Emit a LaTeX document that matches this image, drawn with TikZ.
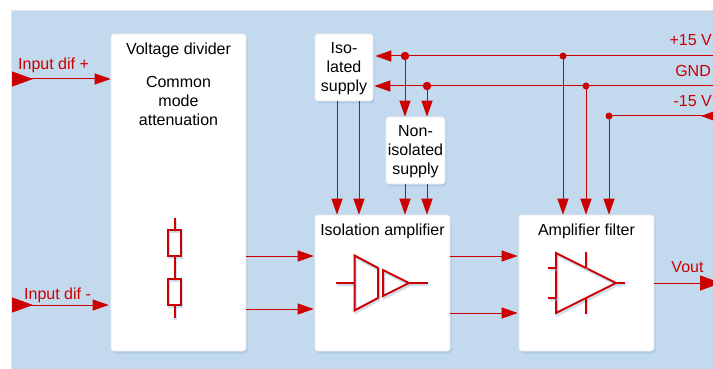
\documentclass[tikz,border=0pt]{standalone}
\usepackage{fontspec}
\setmainfont{Liberation Sans}
\usepackage{tikz}
\usetikzlibrary{arrows.meta,positioning,calc,shadows}
\definecolor{sigred}{RGB}{204,0,0}
\definecolor{panelblue}{RGB}{195,218,238}
\definecolor{shadeblue}{RGB}{150,185,222}
\newcommand{\Txt}{\fontsize{16}{19}\selectfont}
\tikzset{
  blockbox/.style={draw=black!8, line width=0.6pt, fill=white, rounded corners=3pt, inner sep=0pt,
    drop shadow={shadow xshift=1.5pt, shadow yshift=-2.5pt, fill=shadeblue, opacity=0.45}},
  blocktext/.style={font=\Txt, text=black, align=center, inner sep=0pt},
  redtext/.style={font=\Txt, text=sigred, inner sep=0pt},
  wire/.style={draw=sigred, line width=1pt},
  feed/.style={wire, -{Triangle[length=16pt,width=11pt]}},
  bigfeed/.style={wire, {Triangle[reversed,length=21pt,width=15pt]}-{Triangle[length=16pt,width=11pt]}},
  railfeed/.style={wire, {Triangle[reversed,length=21pt,width=15pt]}-},
  bigdot/.style={circle, fill=sigred, minimum size=8.5pt, inner sep=0pt},
  smalldot/.style={circle, fill=sigred, minimum size=7pt, inner sep=0pt},
  symline/.style={draw=sigred, line width=2pt, line join=miter,
    preaction={draw=shadeblue, draw opacity=0.45, line width=2.5pt, transform canvas={shift={(1.2pt,-2pt)}}}},
}
\begin{document}
\begin{tikzpicture}[x=1pt,y=-1pt]
    \clip (0,0) rectangle (713,369);
    \useasboundingbox (0,0) rectangle (713,369);
    \fill[black!10] (11,10) rectangle (713,369);
    \fill[panelblue] (12,11) rectangle (713,369);

    % blocks
    \node[blockbox, minimum width=135pt, minimum height=317pt] (divider) at (178.5,192.5) {};
    \node[blockbox, minimum width=58pt, minimum height=67pt] (isosupply) at (344,67.5) {};
    \node[blockbox, minimum width=59pt, minimum height=67pt] (nonisosupply) at (415.5,150.5) {};
    \node[blockbox, minimum width=135pt, minimum height=136pt] (isoamp) at (382.5,283) {};
    \node[blockbox, minimum width=135pt, minimum height=136pt] (filter) at (586.5,283) {};

    \node[blocktext] (dividertitle) at (178.5,50) {Voltage divider};
    \node[blocktext] (dividernote) at (178.5,101) {Common\\mode\\attenuation};
    \node[blocktext] (isotext) at (344,68.5) {Iso-\\lated\\supply};
    \node[blocktext] (nonisotext) at (415.5,151.5) {Non-\\isolated\\supply};
    \node[blocktext] (isoamptitle) at (382.5,231) {Isolation amplifier};
    \node[blocktext] (filtertitle) at (586.5,231) {Amplifier filter};

    % free ends
    \coordinate (inplus) at (12,79);
    \coordinate (inminus) at (12,305);
    \coordinate (railpos) at (722,56);
    \coordinate (railgnd) at (722,86);
    \coordinate (railneg) at (722,116);
    \coordinate (voutend) at (721,283);

    % junctions
    \node[bigdot] (jposa) at (405,56) {};
    \node[bigdot] (jgnda) at (427,86) {};
    \node[smalldot] (jposb) at (563,56) {};
    \node[smalldot] (jgndb) at (586,86) {};
    \node[smalldot] (jnegb) at (609,116) {};

    % inputs
    \draw[bigfeed] (inplus) -- (inplus -| divider.west);
    \draw[bigfeed] (inminus) -- ([xshift=-2pt]inminus -| divider.west);
    \node[redtext, anchor=west] (inplustext) at (18,65) {Input dif +};
    \node[redtext, anchor=west] (inminustext) at (24,295) {Input dif -};

    % rails
    \draw[railfeed, -{Triangle[length=16pt,width=11pt]}, shorten >=2pt] (railpos) -- (railpos -| isosupply.east);
    \draw[railfeed, -{Triangle[length=16pt,width=11pt]}, shorten >=1pt] (railgnd) -- (railgnd -| isosupply.east);
    \draw[railfeed] (railneg) -- (jnegb.center);
    \node[redtext, anchor=east] (postext) at (712,40) {+15 V};
    \node[redtext, anchor=east] (gndtext) at (711,71) {GND};
    \node[redtext, anchor=east] (negtext) at (712,101) {-15 V};

    \draw[feed] (jposa.center) -- (jposa |- nonisosupply.north);
    \draw[feed] (jgnda.center) -- (jgnda |- nonisosupply.north);
    \draw[feed] (jposb.center) -- (jposb |- filter.north);
    \draw[feed] (jgndb.center) -- (jgndb |- filter.north);
    \draw[feed] (jnegb.center) -- (jnegb |- filter.north);

    % supplies down to the amplifier
    \foreach \x in {337,359} {
      \draw[feed] (\x,0 |- isosupply.south) -- (\x,0 |- isoamp.north);
    }
    \draw[feed] (jposa |- nonisosupply.south) -- (jposa |- isoamp.north);
    \draw[feed] (jgnda |- nonisosupply.south) -- (jgnda |- isoamp.north);

    % signal path
    \foreach \y in {256,309} {
      \draw[feed] (divider.east |- 0,\y) -- ([xshift=-1pt]isoamp.west |- 0,\y);
    }
    \foreach \y in {256,313} {
      \draw[feed] (isoamp.east |- 0,\y) -- ([xshift=-1pt]filter.west |- 0,\y);
    }
    \draw[wire, -{Triangle[length=21pt,width=15pt]}] (filter.east) -- (voutend);
    \node[redtext] (vouttext) at (687.5,267) {Vout};

    % resistor divider
    \draw[symline] (174.5,218) -- (174.5,230);
    \draw[symline] (168,230) rectangle (181,256);
    \draw[symline] (174.5,256) -- (174.5,279);
    \draw[symline] (168,279) rectangle (181,305);
    \draw[symline] (174.5,305) -- (174.5,318);

    % isolation amplifier
    \draw[symline] (336,283) -- (354.5,283);
    \draw[symline] (354.5,255.5) -- (378,268) -- (378,298) -- (354.5,310.5) -- cycle;
    \draw[symline] (383,270) -- (409,283) -- (383,296) -- cycle;
    \draw[symline] (409,283) -- (428,283);

    % filter amplifier
    \draw[symline] (556,253) -- (616,283) -- (556,313) -- cycle;
    \draw[symline] (616,283) -- (624.5,283);
    \draw[symline] (548,268) -- (556,268);
    \draw[symline] (548,297.5) -- (556,297.5);
    \draw[symline] (586,252) -- (586,268);
    \draw[symline] (586,298) -- (586,314);
  \end{tikzpicture}
\end{document}
